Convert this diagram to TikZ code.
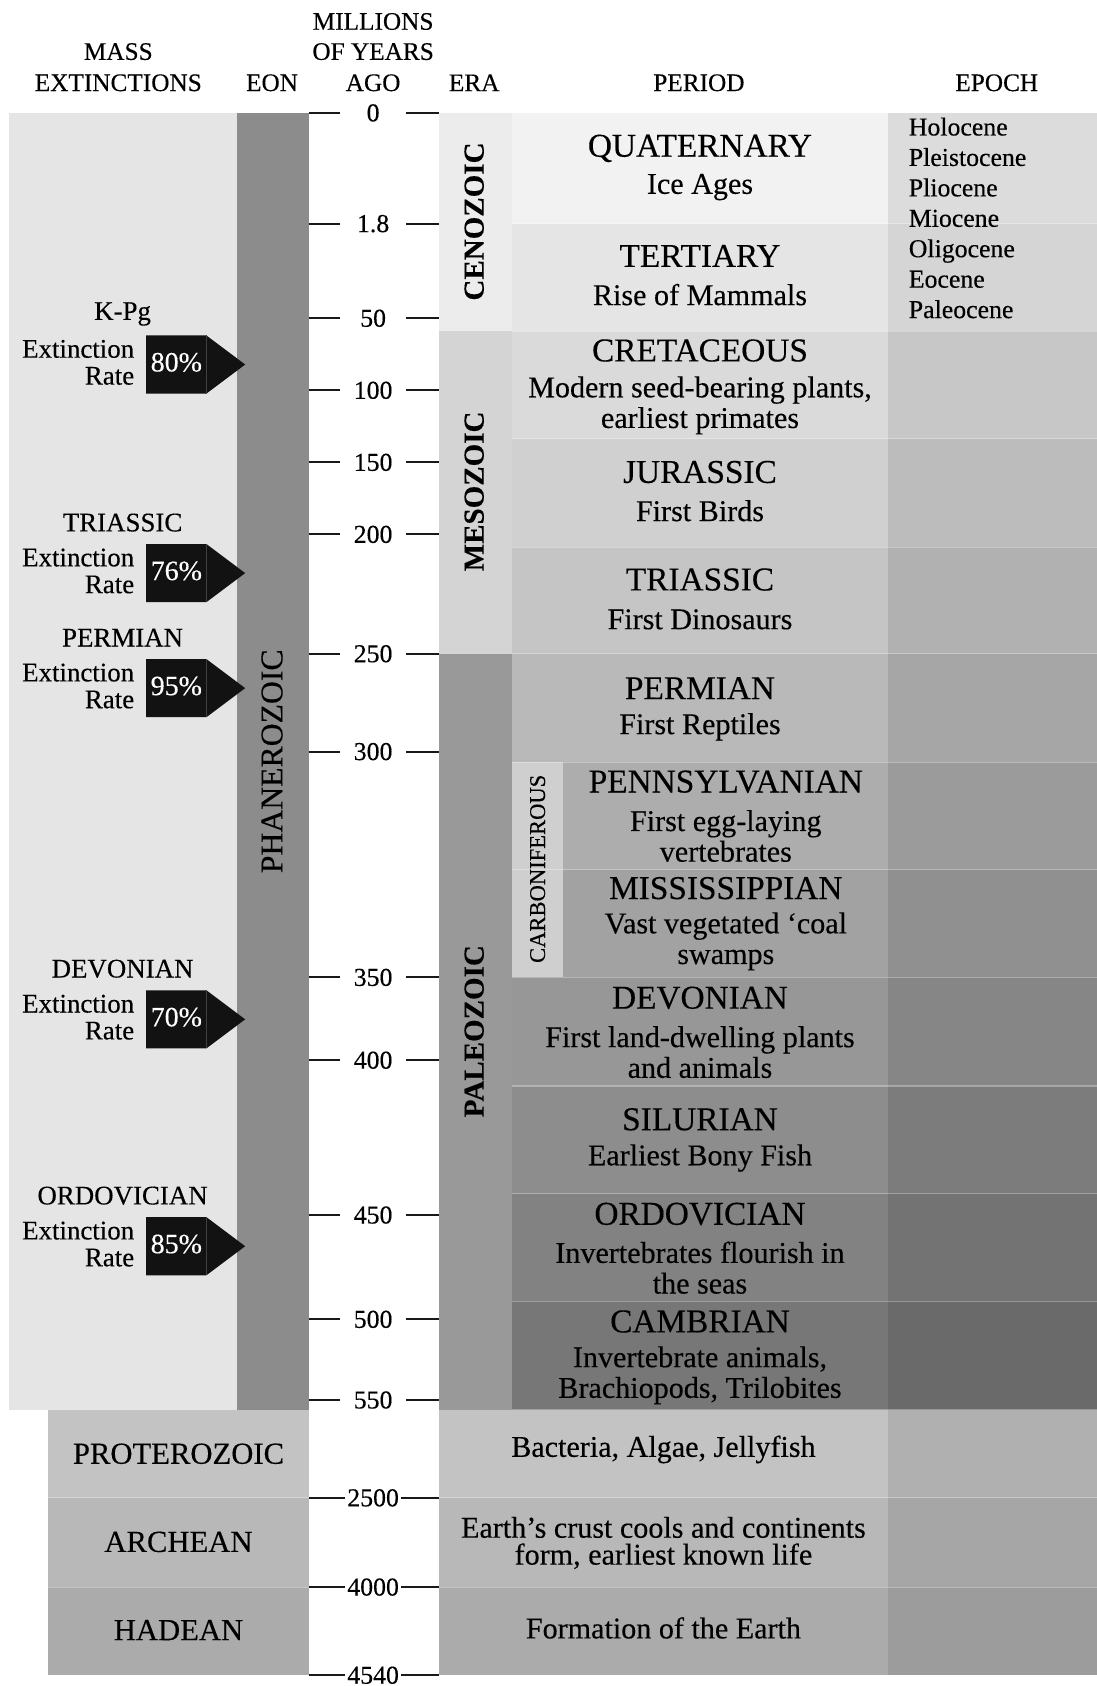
\documentclass[tikz,border=0pt]{standalone}
\usepackage{fontspec}
\setmainfont{Liberation Serif}[FakeBold=0.3]
\usetikzlibrary{positioning}

\tikzset{
  head/.style={inner sep=0pt, font=\fontsize{23.5}{28}\selectfont},
  age/.style={inner sep=0pt, font=\fontsize{24}{24}\selectfont},
  tick/.style={line width=1.8pt, black!90},
  eonname/.style={inner sep=0pt, rotate=90, font=\fontsize{29.5}{29.5}\selectfont},
  eraname/.style={inner sep=0pt, rotate=90, font=\bfseries\fontsize{27}{27}\selectfont},
  subname/.style={inner sep=0pt, rotate=90, font=\fontsize{21}{21}\selectfont},
  pername/.style={inner sep=0pt, font=\fontsize{31}{31}\selectfont},
  perdesc/.style={inner sep=0pt, align=center, font=\fontsize{28}{28.5}\selectfont},
  epoch/.style={inner sep=0pt, anchor=west, text height=17pt, text depth=5pt, font=\fontsize{24}{24}\selectfont},
  exname/.style={inner sep=0pt, font=\fontsize{25}{25}\selectfont},
  exlabel/.style={inner sep=0pt, align=right, font=\fontsize{25}{25}\selectfont},
  rate/.style={inner sep=0pt, text=white, font=\fontsize{26}{26}\selectfont},
  marker/.style={fill=black!93},
  sep/.style={white, opacity=0.3, line width=1pt},
  oldname/.style={inner sep=0pt, font=\fontsize{28.5}{28.5}\selectfont},
}

\begin{document}
\begin{tikzpicture}[x=1pt, y=-1pt]
\useasboundingbox (0,0) rectangle (1020,1568);

% Column heads
\node[head] (hmass) at (110,48) {MASS};
\node[head] (hext) at (110,77) {EXTINCTIONS};
\node[head] (heon) at (253,77) {EON};
\node[head] (hmil) at (347,20) {MILLIONS};
\node[head] (hof) at (347,48) {OF YEARS};
\node[head] (hago) at (347,77) {AGO};
\node[head] (hera) at (441,77) {ERA};
\node[head] (hper) at (650,77) {PERIOD};
\node[head] (hepo) at (927,77) {EPOCH};

% Phanerozoic eon
\fill[black!10] (8,105) rectangle (220,1311);
\fill[black!45] (220,105) rectangle (287,1311);
\node[eonname] (phan) at (253,708) {PHANEROZOIC};

% Eras
\fill[black!7.5] (408,105) rectangle (476,308);
\fill[black!17] (408,308) rectangle (476,608);
\fill[black!40] (408,608) rectangle (476,1311);
\node[eraname] (ceno) at (441,206) {CENOZOIC};
\node[eraname] (meso) at (441,457) {MESOZOIC};
\node[eraname] (paleo) at (441,959) {PALEOZOIC};

% Periods and epochs
\foreach \t/\b/\pc/\ec in {105/208/5/13.7, 208/308/10/16.5, 308/408/14.5/22,
    408/509/18.5/26.3, 509/608/22.7/30.6, 608/709/27.5/35, 709/809/32/39.2,
    809/909/36.5/43.5, 909/1010/40.8/47.5, 1010/1110/44.7/51.4,
    1110/1210/49/55, 1210/1311/53.3/58.4}{
  \fill[black!\pc] (476,\t) rectangle (826,\b);
  \fill[black!\ec] (826,\t) rectangle (1020,\b);
}
\fill[black!19] (476,709) rectangle (524,909);
\node[subname] (carb) at (500,808) {CARBONIFEROUS};
\foreach \y in {208,308,408,509,608,709,809,909,1010,1110,1210,1311}
  \draw[sep] (476,\y) -- (1020,\y);

\node[pername] (quat) at (651,138) {QUATERNARY};
\node[perdesc] (quat-d) at (651,174) {Ice Ages};
\node[pername] (tert) at (651,238) {TERTIARY};
\node[perdesc] (tert-d) at (651,274) {Rise of Mammals};
\node[pername] (cret) at (651,326) {CRETACEOUS};
\node[perdesc] (cret-d) at (651,377) {Modern seed-bearing plants,\\earliest primates};
\node[pername] (jura) at (651,439) {JURASSIC};
\node[perdesc] (jura-d) at (651,475) {First Birds};
\node[pername] (tria) at (651,539) {TRIASSIC};
\node[perdesc] (tria-d) at (651,576) {First Dinosaurs};
\node[pername] (perm) at (651,640) {PERMIAN};
\node[perdesc] (perm-d) at (651,676) {First Reptiles};
\node[pername] (penn) at (675,727) {PENNSYLVANIAN};
\node[perdesc] (penn-d) at (675,777.5) {First egg-laying\\vertebrates};
\node[pername] (miss) at (675,826) {MISSISSIPPIAN};
\node[perdesc] (miss-d) at (675,875.5) {Vast vegetated ‘coal\\swamps};
\node[pername] (devo) at (651,928) {DEVONIAN};
\node[perdesc] (devo-d) at (651,978.5) {First land-dwelling plants\\and animals};
\node[pername] (silu) at (651,1041) {SILURIAN};
\node[perdesc] (silu-d) at (651,1077) {Earliest Bony Fish};
\node[pername] (ordo) at (651,1129) {ORDOVICIAN};
\node[perdesc] (ordo-d) at (651,1179) {Invertebrates flourish in\\the seas};
\node[pername] (camb) at (651,1229) {CAMBRIAN};
\node[perdesc] (camb-d) at (651,1279) {Invertebrate animals,\\Brachiopods, Trilobites};

\foreach \ep [count=\i] in {Holocene, Pleistocene, Pliocene, Miocene, Oligocene, Eocene, Paleocene}
  \node[epoch] (ep\i) at (845,{120+28.3*(\i-1)}) {\ep};

% Time scale
\foreach \y/\lab [count=\i] in {105/0, 208/1.8, 296/50, 363/100, 430/150, 497/200,
    608/250, 699/300, 909/350, 986/400, 1130/450, 1227/500, 1302/550}{
  \draw[tick] (287,\y) -- (316,\y);
  \draw[tick] (378,\y) -- (408,\y);
  \node[age] (t\i) at (347,\y) {\lab};
}
\foreach \y/\lab [count=\i] in {1393/2500, 1476/4000, 1558/4540}{
  \draw[tick] (287,\y) -- (321,\y);
  \draw[tick] (373,\y) -- (408,\y);
  \node[age] (pt\i) at (347,\y) {\lab};
}

% Mass extinctions
\foreach \c/\nm/\pct/\id in {339/K-Pg/80/kpg, 533/TRIASSIC/76/tri, 640/PERMIAN/95/perm,
    948/DEVONIAN/70/dev, 1159/ORDOVICIAN/85/ord}{
  \fill[marker] (136,\c-27) -- (192,\c-27) -- (228,\c) -- (192,\c+27) -- (136,\c+27) -- cycle;
  \draw[black!75, line width=0.5pt] (192,\c-27) -- (192,\c+27);
  \node[rate] (\id) at (164,\c-2) {\pct\%};
  \node[exlabel, left=15pt of \id] (\id-lab) {Extinction\\Rate};
  \node[exname] (\id-name) at (114,\c-47) {\nm};
}

% Precambrian
\fill[black!23.5] (45,1311) rectangle (287,1393);
\fill[black!23.5] (408,1311) rectangle (826,1393);
\fill[black!31] (826,1311) rectangle (1020,1393);
\fill[black!28] (45,1393) rectangle (287,1476);
\fill[black!28] (408,1393) rectangle (826,1476);
\fill[black!35] (826,1393) rectangle (1020,1476);
\fill[black!33] (45,1476) rectangle (287,1558);
\fill[black!33] (408,1476) rectangle (826,1558);
\fill[black!39] (826,1476) rectangle (1020,1558);
\foreach \y in {1393,1476,1558}
  \draw[sep] (45,\y) -- (287,\y) (408,\y) -- (1020,\y);

\node[oldname] (prot) at (166,1352) {PROTEROZOIC};
\node[oldname] (arch) at (166,1434) {ARCHEAN};
\node[oldname] (hade) at (166,1516) {HADEAN};
\node[perdesc] (prot-d) at (617,1348) {Bacteria, Algae, Jellyfish};
\node[perdesc, font=\fontsize{28}{25}\selectfont] (arch-d) at (617,1435) {Earth’s crust cools and continents\\form, earliest known life};
\node[perdesc] (hade-d) at (617,1514) {Formation of the Earth};
\end{tikzpicture}
\end{document}
